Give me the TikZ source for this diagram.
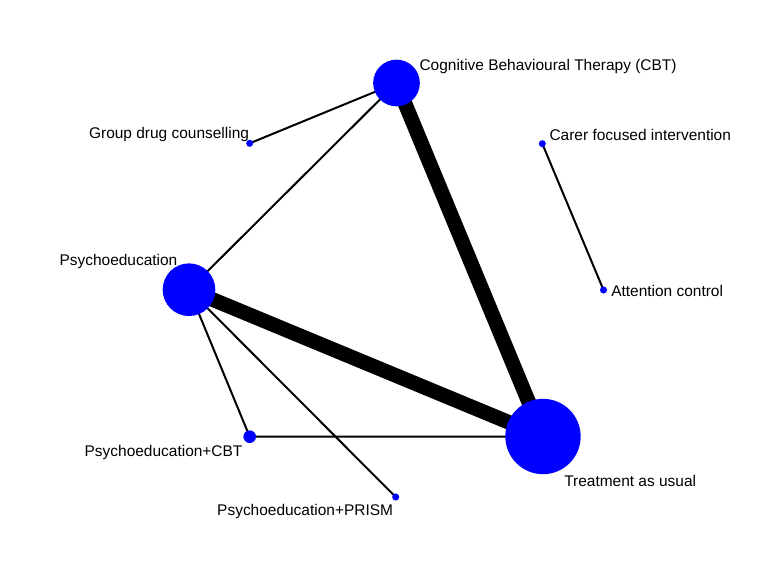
\documentclass[tikz,border=0pt]{standalone}
\usepackage{fontspec}
\setmainfont{Liberation Sans}
\usetikzlibrary{backgrounds}
\begin{document}
\begin{tikzpicture}[x=0.75pt,y=-0.75pt,
  trt/.style={circle,fill=blue,draw=none,inner sep=0pt,minimum size=#1},
  lbl/.style={inner sep=0pt,font=\fontsize{11.6}{14}\selectfont},
  thinedge/.style={line width=1.5pt},
  thickedge/.style={line width=11pt}]
\useasboundingbox (0,0) rectangle (778,572);
\node[trt=35pt] (cbt) at (396.5,83) {};
\node[trt=5.3pt] (grp) at (249.7,143.3) {};
\node[trt=5.3pt] (carer) at (542.3,143.7) {};
\node[trt=5.3pt] (attn) at (603.5,290) {};
\node[trt=39.5pt] (psy) at (189,289.7) {};
\node[trt=9.5pt] (psycbt) at (249.7,436.7) {};
\node[trt=5.3pt] (prism) at (395.7,497) {};
\node[trt=56.5pt] (tau) at (543,436.5) {};
\node[lbl,anchor=base west] (cbtlbl) at (419.3,70) {Cognitive Behavioural Therapy (CBT)};
\node[lbl,anchor=base east] (grplbl) at (249.3,138.3) {Group drug counselling};
\node[lbl,anchor=base west] (carerlbl) at (549.3,140) {Carer focused intervention};
\node[lbl,anchor=base west] (attnlbl) at (611,296.7) {Attention control};
\node[lbl,anchor=base west] (psylbl) at (59.3,265) {Psychoeducation};
\node[lbl,anchor=base east] (psycbtlbl) at (242.7,456) {Psychoeducation+CBT};
\node[lbl,anchor=base east] (prismlbl) at (393.3,515) {Psychoeducation+PRISM};
\node[lbl,anchor=base west] (taulbl) at (564,486.7) {Treatment as usual};
\begin{scope}[on background layer]
\draw[thinedge] (grp.center)--(cbt.center);
\draw[thinedge] (psy.center)--(cbt.center);
\draw[thickedge] (cbt.center)--(tau.center);
\draw[thickedge] (psy.center)--(tau.center);
\draw[thinedge] (psy.center)--(psycbt.center);
\draw[thinedge] (psy.center)--(prism.center);
\draw[thinedge] (psycbt.center)--(tau.center);
\draw[thinedge] (carer.center)--(attn.center);
\end{scope}
\end{tikzpicture}
\end{document}
